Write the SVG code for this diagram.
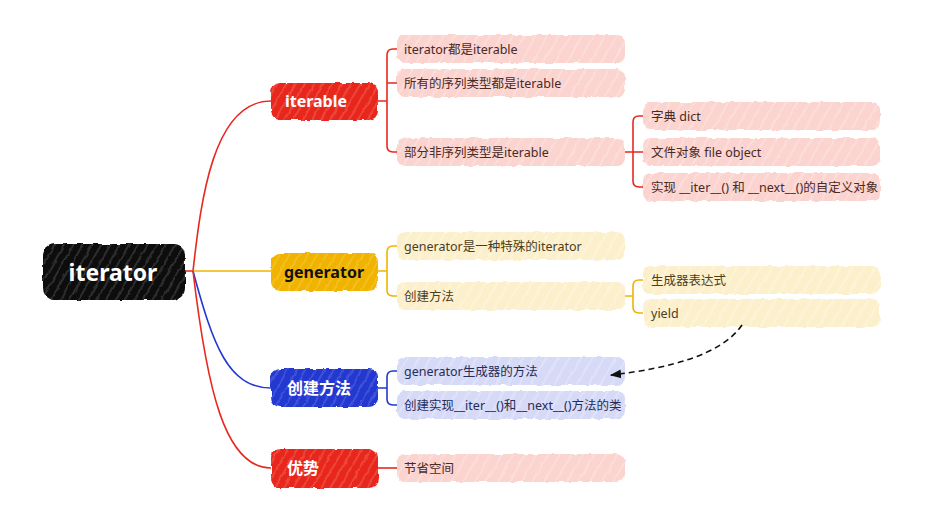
<svg xmlns="http://www.w3.org/2000/svg" width="936" height="505" viewBox="0 0 936 505">
  <defs>
    <pattern id="hatch" width="8" height="8" patternUnits="userSpaceOnUse" patternTransform="rotate(30)">
      <line x1="2" y1="0" x2="2" y2="8" stroke="#ffffff" stroke-width="0.8" stroke-opacity="0.35"/>
    </pattern>
    <pattern id="hatchL" width="10" height="10" patternUnits="userSpaceOnUse" patternTransform="rotate(30)">
      <line x1="2" y1="0" x2="2" y2="10" stroke="#ffffff" stroke-width="0.9" stroke-opacity="0.5"/>
    </pattern>
    <filter id="rough" x="-5%" y="-20%" width="110%" height="140%">
      <feTurbulence type="fractalNoise" baseFrequency="0.12" numOctaves="2" seed="3" result="n"/>
      <feDisplacementMap in="SourceGraphic" in2="n" scale="3.5" xChannelSelector="R" yChannelSelector="G"/>
    </filter>
    <marker id="arr" viewBox="0 0 10 10" refX="9" refY="5" markerWidth="7" markerHeight="7" orient="auto">
      <path d="M0,1 L10,5 L0,9 z" fill="#111"/>
    </marker>
    <style>
      .t { font-family: "Noto Sans", "Noto Sans CJK SC", sans-serif; font-size: 12.5px; dominant-baseline: central; }
      .tb { font-family: "Noto Sans", "Noto Sans CJK SC", sans-serif; font-size: 16px; font-weight: bold; dominant-baseline: central; text-anchor: middle; }
      .red { stroke: #e8281e; }
      .yel { stroke: #f0b400; }
      .blu { stroke: #2238d0; }
      .c { fill: none; stroke-width: 1.6; }
      .lr { fill: #fbd3cf; }
      .ly { fill: #fcf0cc; }
      .lb { fill: #d6daf6; }
      .tr { fill: #4a2a25; }
      .ty { fill: #4a3e22; }
      .tbl { fill: #262c5a; }
    </style>
  </defs>

  <g id="root">
    <g filter="url(#rough)">
      <rect x="43" y="244" width="142" height="56" rx="12" fill="#0d0d0d"/>
      <rect x="43" y="244" width="142" height="56" rx="12" fill="url(#hatch)"/>
    </g>
    <text x="113" y="272" class="tb" style="font-size:23px" fill="#ffffff">iterator</text>
  </g>

  <g id="n-iterable">
    <g filter="url(#rough)">
      <rect x="271" y="83" width="107" height="37" rx="9" fill="#e8281e"/>
      <rect x="271" y="83" width="107" height="37" rx="9" fill="url(#hatch)"/>
    </g>
    <text x="316" y="101" class="tb" fill="#ffffff">iterable</text>
  </g>
  <g id="n-generator">
    <g filter="url(#rough)">
      <rect x="271" y="253" width="107" height="38" rx="9" fill="#f0b400"/>
      <rect x="271" y="253" width="107" height="38" rx="9" fill="url(#hatch)"/>
    </g>
    <text x="324" y="272" class="tb" fill="#111111">generator</text>
  </g>
  <g id="n-create">
    <g filter="url(#rough)">
      <rect x="271" y="369" width="107" height="38" rx="9" fill="#2238d0"/>
      <rect x="271" y="369" width="107" height="38" rx="9" fill="url(#hatch)"/>
    </g>
    <text x="319" y="388" class="tb" fill="#ffffff">创建方法</text>
  </g>
  <g id="n-adv">
    <g filter="url(#rough)">
      <rect x="271" y="449" width="107" height="39" rx="9" fill="#e8281e"/>
      <rect x="271" y="449" width="107" height="39" rx="9" fill="url(#hatch)"/>
    </g>
    <text x="303" y="468" class="tb" fill="#ffffff">优势</text>
  </g>

  <g id="l-it1">
    <g filter="url(#rough)"><rect x="397" y="35" width="228" height="28" rx="8" class="lr"/><rect x="397" y="35" width="228" height="28" rx="8" fill="url(#hatchL)"/></g>
    <text x="404" y="49" class="t tr">iterator都是iterable</text>
  </g>
  <g id="l-it2">
    <g filter="url(#rough)"><rect x="397" y="69" width="228" height="28" rx="8" class="lr"/><rect x="397" y="69" width="228" height="28" rx="8" fill="url(#hatchL)"/></g>
    <text x="404" y="83" class="t tr">所有的序列类型都是iterable</text>
  </g>
  <g id="l-it3">
    <g filter="url(#rough)"><rect x="397" y="138" width="228" height="28" rx="8" class="lr"/><rect x="397" y="138" width="228" height="28" rx="8" fill="url(#hatchL)"/></g>
    <text x="404" y="152" class="t tr">部分非序列类型是iterable</text>
  </g>
  <g id="l-dict">
    <g filter="url(#rough)"><rect x="643" y="102" width="237" height="28" rx="8" class="lr"/><rect x="643" y="102" width="237" height="28" rx="8" fill="url(#hatchL)"/></g>
    <text x="651" y="116" class="t tr">字典 dict</text>
  </g>
  <g id="l-file">
    <g filter="url(#rough)"><rect x="643" y="138" width="237" height="28" rx="8" class="lr"/><rect x="643" y="138" width="237" height="28" rx="8" fill="url(#hatchL)"/></g>
    <text x="651" y="152" class="t tr">文件对象 file object</text>
  </g>
  <g id="l-custom">
    <g filter="url(#rough)"><rect x="643" y="173" width="237" height="28" rx="8" class="lr"/><rect x="643" y="173" width="237" height="28" rx="8" fill="url(#hatchL)"/></g>
    <text x="651" y="187" class="t tr">实现 __iter__() 和 __next__()的自定义对象</text>
  </g>

  <g id="l-gen1">
    <g filter="url(#rough)"><rect x="397" y="232" width="228" height="28" rx="8" class="ly"/><rect x="397" y="232" width="228" height="28" rx="8" fill="url(#hatchL)"/></g>
    <text x="404" y="246" class="t ty">generator是一种特殊的iterator</text>
  </g>
  <g id="l-gen2">
    <g filter="url(#rough)"><rect x="397" y="282" width="228" height="28" rx="8" class="ly"/><rect x="397" y="282" width="228" height="28" rx="8" fill="url(#hatchL)"/></g>
    <text x="404" y="296" class="t ty">创建方法</text>
  </g>
  <g id="l-genexp">
    <g filter="url(#rough)"><rect x="643" y="266" width="237" height="28" rx="8" class="ly"/><rect x="643" y="266" width="237" height="28" rx="8" fill="url(#hatchL)"/></g>
    <text x="651" y="280" class="t ty">生成器表达式</text>
  </g>
  <g id="l-yield">
    <g filter="url(#rough)"><rect x="643" y="299" width="237" height="28" rx="8" class="ly"/><rect x="643" y="299" width="237" height="28" rx="8" fill="url(#hatchL)"/></g>
    <text x="651" y="313" class="t ty">yield</text>
  </g>

  <g id="l-cr1">
    <g filter="url(#rough)"><rect x="397" y="357" width="228" height="28" rx="8" class="lb"/><rect x="397" y="357" width="228" height="28" rx="8" fill="url(#hatchL)"/></g>
    <text x="404" y="371" class="t tbl">generator生成器的方法</text>
  </g>
  <g id="l-cr2">
    <g filter="url(#rough)"><rect x="397" y="391" width="228" height="28" rx="8" class="lb"/><rect x="397" y="391" width="228" height="28" rx="8" fill="url(#hatchL)"/></g>
    <text x="404" y="405" class="t tbl">创建实现__iter__()和__next__()方法的类</text>
  </g>

  <g id="l-adv1">
    <g filter="url(#rough)"><rect x="397" y="454" width="228" height="28" rx="8" class="lr"/><rect x="397" y="454" width="228" height="28" rx="8" fill="url(#hatchL)"/></g>
    <text x="404" y="468" class="t tr">节省空间</text>
  </g>

  <g id="connectors">
    <path class="c red" d="M185,271 H193 C201,200 213,101 271,101"/>
    <path class="c yel" d="M193,271 H271"/>
    <path class="c blu" d="M193,271 C213,345 228,388 271,388"/>
    <path class="c red" d="M193,271 C207,390 225,468 271,468"/>

    <path class="c red" d="M378,101 H387 M397,49 H393 Q387,49 387,55 V146 Q387,152 393,152 H397 M387,83 H397"/>
    <path class="c red" d="M625,152 H633 M643,116 H639 Q633,116 633,122 V181 Q633,187 639,187 H643 M633,152 H643"/>
    <path class="c yel" d="M378,271 H387 M397,246 H393 Q387,246 387,252 V290 Q387,296 393,296 H397"/>
    <path class="c yel" d="M625,296 H633 M643,280 H639 Q633,280 633,286 V307 Q633,313 639,313 H643"/>
    <path class="c blu" d="M378,388 H387 M397,371 H393 Q387,371 387,377 V399 Q387,405 393,405 H397"/>
    <path class="c red" d="M378,468 H397"/>

    <path d="M742,325 C722,354 672,368 611,375" fill="none" stroke="#111" stroke-width="1.6" stroke-dasharray="6,4" marker-end="url(#arr)"/>
  </g>
</svg>
